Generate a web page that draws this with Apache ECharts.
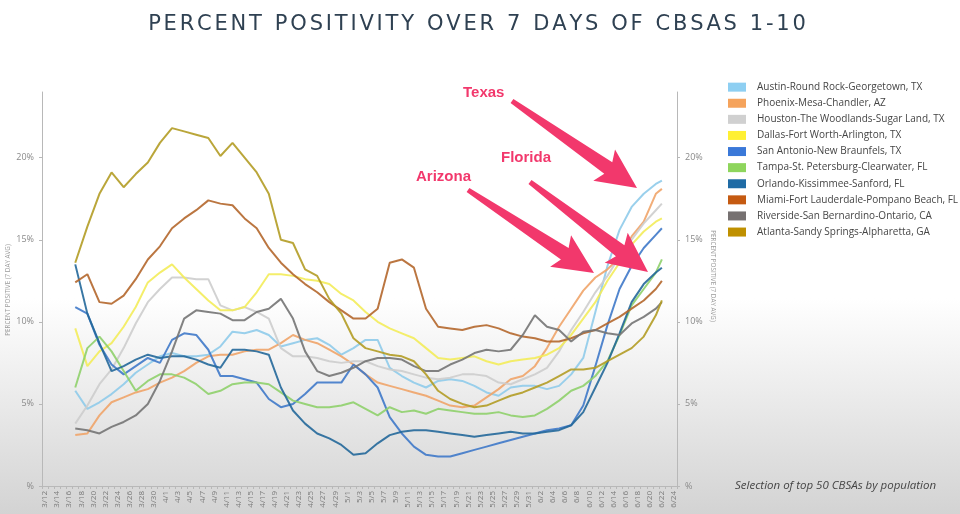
<!DOCTYPE html>
<html><head><meta charset="utf-8">
<script src="https://cdn.jsdelivr.net/npm/echarts@6/dist/echarts.min.js"></script>
<style>html,body{margin:0;padding:0;background:#fff;}#c{width:960px;height:514px;}</style>
</head><body><div id="c"></div>
<script>
// ---- categories (daily) ----
const dates = ['3/12','3/13','3/14','3/15','3/16','3/17','3/18','3/19','3/20','3/21','3/22','3/23','3/24','3/25','3/26','3/27','3/28','3/29','3/30','3/31',
'4/1','4/2','4/3','4/4','4/5','4/6','4/7','4/8','4/9','4/10','4/11','4/12','4/13','4/14','4/15','4/16','4/17','4/18','4/19','4/20','4/21','4/22','4/23','4/24','4/25','4/26','4/27','4/28','4/29','4/30',
'5/1','5/2','5/3','5/4','5/5','5/6','5/7','5/8','5/9','5/10','5/11','5/12','5/13','5/14','5/15','5/16','5/17','5/18','5/19','5/20','5/21','5/22','5/23','5/24','5/25','5/26','5/27','5/28','5/29','5/30','5/31',
'6/1','6/2','6/3','6/4','6/5','6/6','6/7','6/8','6/9','6/10','6/11','6/12','6/13','6/14','6/15','6/16','6/17','6/18','6/19','6/20','6/21','6/22','6/23','6/24'];
const sampleDays = ['3/17','3/19','3/21','3/23','3/25','3/27','3/29','3/31','4/2','4/4',
'4/6','4/8','4/10','4/12','4/14','4/16','4/18','4/20','4/22','4/24',
'4/26','4/28','4/30','5/2','5/4','5/6','5/8','5/10','5/12','5/14',
'5/16','5/18','5/20','5/22','5/24','5/26','5/28','5/30','6/1','6/3',
'6/5','6/7','6/9','6/11','6/13','6/15','6/17','6/19','6/21','6/22'];

const seriesNames = ['Austin-Round Rock-Georgetown, TX','Phoenix-Mesa-Chandler, AZ','Houston-The Woodlands-Sugar Land, TX','Dallas-Fort Worth-Arlington, TX','San Antonio-New Braunfels, TX','Tampa-St. Petersburg-Clearwater, FL','Orlando-Kissimmee-Sanford, FL','Miami-Fort Lauderdale-Pompano Beach, FL','Riverside-San Bernardino-Ontario, CA','Atlanta-Sandy Springs-Alpharetta, GA'];

const austin = [5.8,4.7,5.1,5.6,6.2,6.9,7.4,7.9,8.1,7.9, 7.9,8.0,8.5,9.4,9.3,9.5,9.2,8.5,8.7,8.9, 9.0,8.6,8.0,8.4,8.9,8.9,7.2,6.7,6.3,6.0, 6.4,6.5,6.4,6.1,5.7,5.5,6.0,6.1,6.1,5.9, 6.1,6.8,7.8,10.6,13.4,15.6,17.0,17.8,18.4,18.6];
const phoenix = [3.1,3.2,4.3,5.1,5.4,5.7,5.9,6.3,6.6,7.0, 7.5,7.9,8.0,8.0,8.2,8.3,8.3,8.7,9.2,8.9, 8.7,8.3,7.9,7.4,6.8,6.3,6.1,5.9,5.7,5.5, 5.2,4.9,4.8,4.9,5.4,5.9,6.5,6.7,7.3,8.4, 9.7,10.8,11.9,12.7,13.2,13.9,15.2,16.1,17.8,18.1];
const houston = [3.8,4.9,6.2,7.1,8.4,9.9,11.2,12.0,12.7,12.7, 12.6,12.6,11.0,10.7,10.9,10.6,10.2,8.4,7.9,7.9, 7.8,7.6,7.5,7.6,7.6,7.3,7.1,7.0,6.8,6.6, 6.5,6.6,6.8,6.8,6.7,6.3,6.2,6.5,6.8,7.2, 8.2,9.5,10.6,11.8,12.8,14.0,15.0,16.0,16.8,17.2];
const dallas = [9.6,7.3,8.2,8.7,9.7,10.9,12.4,13.0,13.5,12.7, 12.0,11.3,10.7,10.7,10.9,11.8,12.9,12.9,12.8,12.6, 12.5,12.3,11.7,11.3,10.6,10.0,9.6,9.3,9.0,8.4, 7.8,7.7,7.8,7.9,7.6,7.4,7.6,7.7,7.8,8.0, 8.4,9.2,10.2,11.2,12.5,13.6,14.7,15.5,16.1,16.3];
const sanAntonio = [10.9,10.5,8.6,7.4,6.8,7.3,7.8,7.5,8.9,9.3, 9.2,8.3,6.7,6.7,6.5,6.3,5.3,4.8,5.0,5.6, 6.3,6.3,6.3,7.4,6.8,6.0,4.2,3.2,2.4,1.9, 1.8,1.8,2.0,2.2,2.4,2.6,2.8,3.0,3.2,3.4, 3.5,3.7,4.9,7.3,9.8,12.0,13.4,14.5,15.3,15.7];
const tampa = [6.0,8.4,9.1,8.2,7.0,5.8,6.4,6.8,6.8,6.6, 6.2,5.6,5.8,6.2,6.3,6.3,6.2,5.7,5.2,5.0, 4.8,4.8,4.9,5.1,4.7,4.3,4.8,4.5,4.6,4.4, 4.7,4.6,4.5,4.4,4.4,4.5,4.3,4.2,4.3,4.7, 5.2,5.8,6.1,6.7,7.6,9.2,11.0,12.0,13.0,13.8];
const orlando = [13.5,10.5,8.7,7.0,7.3,7.7,8.0,7.8,7.9,7.9, 7.7,7.4,7.2,8.3,8.3,8.2,8.0,6.0,4.6,3.8, 3.2,2.9,2.5,1.9,2.0,2.6,3.1,3.3,3.4,3.4, 3.3,3.2,3.1,3.0,3.1,3.2,3.3,3.2,3.2,3.3, 3.4,3.7,4.5,6.0,7.5,9.3,11.2,12.3,13.0,13.3];
const miami = [12.4,12.9,11.2,11.1,11.6,12.6,13.8,14.6,15.7,16.3, 16.8,17.4,17.2,17.1,16.3,15.7,14.5,13.6,12.9,12.3, 11.8,11.2,10.7,10.2,10.2,10.8,13.6,13.8,13.3,10.8, 9.7,9.6,9.5,9.7,9.8,9.6,9.3,9.1,9.0,8.8, 8.8,9.0,9.3,9.5,9.9,10.3,10.8,11.3,12.0,12.5];
const riverside = [3.5,3.4,3.2,3.6,3.9,4.3,5.0,6.4,8.2,10.2, 10.7,10.6,10.5,10.1,10.1,10.6,10.8,11.4,10.2,8.2, 7.0,6.7,6.9,7.2,7.6,7.8,7.8,7.7,7.3,7.0, 7.0,7.4,7.7,8.1,8.3,8.2,8.3,9.2,10.4,9.7, 9.5,8.8,9.4,9.5,9.3,9.2,9.9,10.3,10.8,11.2];
const atlanta = [13.6,15.8,17.8,19.1,18.2,19.0,19.7,20.9,21.8,21.6, 21.4,21.2,20.1,20.9,20.0,19.1,17.8,15.0,14.8,13.2, 12.8,11.4,10.5,9.0,8.4,8.2,8.0,7.9,7.6,6.8, 5.8,5.3,5.0,4.8,4.9,5.2,5.5,5.7,6.0,6.3, 6.7,7.1,7.1,7.2,7.6,8.0,8.4,9.1,10.4,11.3];

const allValues = [austin, phoenix, houston, dallas, sanAntonio, tampa, orlando, miami, riverside, atlanta];
const lineColors = ['#8fcbea','#f0a469','#cdcdcd','#f3ec5a','#3f79c9','#8fd06c','#23689a','#b4672c','#747474','#b39c25'];
const legendColors = ['#8ecff2','#f5a35c','#d0d0d0','#fff033','#3a78d8','#8ed55c','#1f6ba5','#c55a11','#767171','#bf9000'];

const yTicks = [0,5,10,15,20];
const titleText = 'PERCENT POSITIVITY OVER 7 DAYS OF CBSAS 1-10';
const yAxisTitle = 'PERCENT POSITIVE (7 DAY AVG)';

const chart = echarts.init(document.getElementById('c'), null, {renderer:'canvas'});

function arrowPts(tx,ty,hx,hy){
  const dx=hx-tx, dy=hy-ty, L=Math.hypot(dx,dy), ux=dx/L, uy=dy/L, nx=-uy, ny=ux;
  const headLen=40, headW=19, tailW=2.5, neckW=7, notch=5;
  const bx=hx-ux*headLen, by=hy-uy*headLen;
  const cx=bx+ux*notch, cy=by+uy*notch;
  return [[tx+nx*tailW,ty+ny*tailW],[cx+nx*neckW,cy+ny*neckW],[bx+nx*headW,by+ny*headW],[hx,hy],[bx-nx*headW,by-ny*headW],[cx-nx*neckW,cy-ny*neckW],[tx-nx*tailW,ty-ny*tailW]];
}
const pink = '#f2386c';
const annText = (txt, x, y) => ({type:'text', left:x, top:y, z:100,
  style:{text:txt, fill:pink, font:'bold 15px "Liberation Sans", sans-serif', stroke:'#ffffff', lineWidth:2,
    shadowColor:'rgba(0,0,0,0.35)', shadowBlur:2, shadowOffsetX:1, shadowOffsetY:1}});
const arrow = (a) => ({type:'polygon', z:99, shape:{points:arrowPts(a[0],a[1],a[2],a[3])}, style:{fill:pink}});
const axisTitle = (x, y, rot) => ({type:'text', x:x, y:y, rotation:rot, z:50,
  style:{text:yAxisTitle, font:'6.3px "Open Sans", sans-serif', fill:'#9a9a9a', align:'center', verticalAlign:'middle'}});

const yAxisCommon = {
  type:'value', min:0, max:24, interval:5,
  axisLine:{show:true, lineStyle:{color:'#b8b8b8', width:1}},
  axisTick:{show:true, length:3, lineStyle:{color:'#b8b8b8'}},
  splitLine:{show:false},
  axisLabel:{showMaxLabel:false, fontSize:9, color:'#8a8a8a', fontFamily:'Open Sans',
    formatter: v => yTicks.includes(v) ? (v===0 ? '%' : v + '%') : ''}
};

const titleRich = titleText.split('').map(c => c === ' ' ? '{s| }' : '{c|' + c + '}').join('');

chart.setOption({
  backgroundColor: new echarts.graphic.LinearGradient(0,0,0,1,[
    {offset:0, color:'#ffffff'},{offset:0.58, color:'#ffffff'},{offset:1, color:'#d3d3d3'}]),
  animation:false,
  title:{text:titleRich, left:472, textAlign:'center', top:9,
    textStyle:{rich:{
      c:{fontSize:21, fontWeight:'normal', color:'#2f4152', fontFamily:'DejaVu Sans', padding:[0,1.4,0,1.4]},
      s:{fontSize:21, fontFamily:'DejaVu Sans', padding:[0,1.4,0,1.4]}
    }}},
  legend:{orient:'vertical', left:723, top:76, icon:'rect', itemWidth:18, itemHeight:9, itemGap:3.8,
    data: seriesNames.map((n,i)=>({name:n, itemStyle:{color:legendColors[i]}})),
    textStyle:{fontSize:10, color:'#454545', fontFamily:'Open Sans', lineHeight:12.3, padding:[0,0,0,6]}},
  grid:{left:42, right:283, top:92, bottom:28, outerBoundsMode:'none', containLabel:false},
  xAxis:{type:'category', data:dates, boundaryGap:true,
    axisLine:{lineStyle:{color:'#b8b8b8'}},
    axisTick:{show:true, interval:0, length:3, lineStyle:{color:'#b8b8b8'}},
    axisLabel:{interval:1, rotate:90, fontSize:8, color:'#7a7a7a', fontFamily:'Open Sans', margin:5}},
  yAxis:[
    Object.assign({}, yAxisCommon, {position:'left'}),
    Object.assign({}, yAxisCommon, {position:'right'})
  ],
  series: allValues.map((vals,i)=>({
    name:seriesNames[i], type:'line', yAxisIndex:0, showSymbol:false, symbol:'none',
    data: sampleDays.map((d,j)=>[d, vals[j]]),
    lineStyle:{width:2, color:lineColors[i], opacity:0.9},
    itemStyle:{color:legendColors[i]}
  })),
  graphic:[
    axisTitle(8, 290, Math.PI/2),
    axisTitle(713, 276, -Math.PI/2),
    arrow([512,101,637,188]),
    arrow([530,182,648,272]),
    arrow([468,190,594,273]),
    annText('Texas', 462, 84),
    annText('Florida', 500, 149),
    annText('Arizona', 415, 168),
    {type:'text', left:735, top:480, style:{text:'Selection of top 50 CBSAs by population',
      font:'italic 11.5px "Open Sans", sans-serif', fill:'#454545'}}
  ]
});
</script>
</body></html>
